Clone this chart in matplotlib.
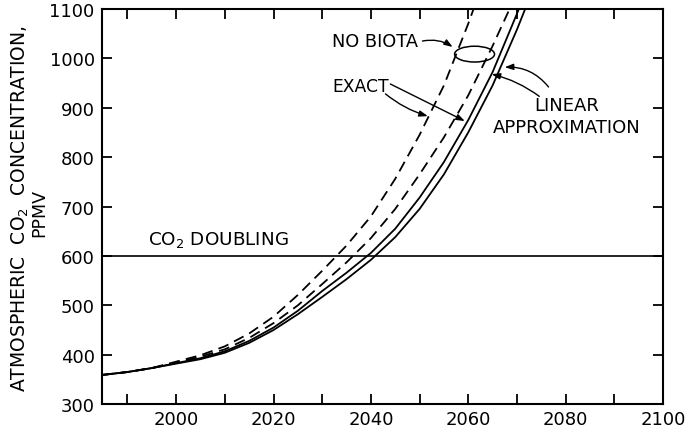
import matplotlib.pyplot as plt
from matplotlib.patches import Ellipse
from matplotlib.ticker import MultipleLocator

plt.rcParams['font.family'] = ['DejaVu Sans']
plt.rcParams['mathtext.default'] = 'regular'

# curves: year / ppmv
# no biota, exact (outer dashed)
nb_exact_yr = [1984.7, 1990, 1995, 2000, 2005, 2010, 2015, 2020, 2025, 2030,
               2035, 2040, 2045, 2050, 2055, 2060, 2061.1]
nb_exact_ppm = [359, 365, 373, 386, 399, 417, 443, 477, 521, 570,
                621, 680, 756, 845, 945, 1070, 1100]

# no biota, linear approximation (inner dashed)
nb_lin_yr = [1984.7, 1990, 1995, 2000, 2005, 2010, 2015, 2020, 2025, 2030,
             2035, 2040, 2045, 2050, 2055, 2060, 2065, 2068.5]
nb_lin_ppm = [359, 365, 373, 384, 396, 411, 434, 464, 500, 543,
              587, 636, 695, 765, 840, 925, 1025, 1100]

# with biota, exact (inner solid)
b_exact_yr = [1984.7, 1990, 1995, 2000, 2005, 2010, 2015, 2020, 2025, 2030,
              2035, 2040, 2045, 2050, 2055, 2060, 2065, 2070, 2070.4]
b_exact_ppm = [359, 365, 373, 383, 393, 407, 428, 455, 489, 529,
               566, 606, 655, 718, 790, 875, 972, 1090, 1100]

# with biota, linear approximation (outer solid)
b_lin_yr = [1984.7, 1990, 1995, 2000, 2005, 2010, 2015, 2020, 2025, 2030,
            2035, 2040, 2045, 2050, 2055, 2060, 2065, 2070, 2071.7]
b_lin_ppm = [359, 365, 373, 382, 391, 404, 424, 450, 482, 517,
             553, 592, 638, 695, 765, 850, 945, 1058, 1100]

doubling = 600

fig = plt.figure(figsize=(6.87, 4.31), dpi=100)
ax = fig.add_axes([0.148, 0.060, 0.817, 0.917])

dash = (0, (6, 3.5))
ax.plot(nb_exact_yr, nb_exact_ppm, color='black', lw=1.3, linestyle=dash)
ax.plot(nb_lin_yr, nb_lin_ppm, color='black', lw=1.3, linestyle=dash)
ax.plot(b_exact_yr, b_exact_ppm, color='black', lw=1.3)
ax.plot(b_lin_yr, b_lin_ppm, color='black', lw=1.3)
ax.axhline(doubling, color='black', lw=1.2)

ax.set_xlim(1984.7, 2100)
ax.set_ylim(300, 1100)
ax.xaxis.set_major_locator(MultipleLocator(20))
ax.xaxis.set_minor_locator(MultipleLocator(10))
ax.yaxis.set_major_locator(MultipleLocator(100))
ax.tick_params(which='both', direction='in', top=True, right=True,
               length=7, width=1.3, labelsize=13)
ax.tick_params(axis='x', pad=4)
ax.tick_params(axis='y', pad=5)
for s in ax.spines.values():
    s.set_linewidth(1.5)

# labels
ax.text(1994.2, 634, r'CO$_2$ DOUBLING', fontsize=13.2, va='center', ha='left')
ax.text(2032, 1035, 'NO BIOTA', fontsize=12.8, va='center', ha='left')
ax.text(2032, 944, 'EXACT', fontsize=12.3, va='center', ha='left')
ax.text(2080.2, 905, 'LINEAR', fontsize=13, va='center', ha='center')
ax.text(2080.2, 861, 'APPROXIMATION', fontsize=13, va='center', ha='center')

ax.add_patch(Ellipse((2061.3, 1008.5), 8.2, 32, fill=False, lw=1.1, color='black'))

arrow = dict(arrowstyle='-|>,head_length=0.5,head_width=0.18', color='black', lw=1.0,
             shrinkA=0, shrinkB=0)
ax.annotate('', xy=(2056.8, 1023), xytext=(2050.6, 1035),
            arrowprops=dict(arrow, connectionstyle='arc3,rad=-0.2'))
ax.annotate('', xy=(2059.3, 873), xytext=(2044.0, 948),
            arrowprops=dict(arrow, connectionstyle='arc3,rad=0.0'))
ax.annotate('', xy=(2051.7, 883), xytext=(2043.0, 928),
            arrowprops=dict(arrow, connectionstyle='arc3,rad=0.1'))
ax.annotate('', xy=(2067.5, 982), xytext=(2076.5, 942),
            arrowprops=dict(arrow, connectionstyle='arc3,rad=0.25'))
ax.annotate('', xy=(2064.8, 968), xytext=(2074.6, 923),
            arrowprops=dict(arrow, connectionstyle='arc3,rad=0.1'))

fig.text(0.030, 0.515, r'ATMOSPHERIC  CO$_2$  CONCENTRATION,', rotation=90,
         fontsize=13.5, ha='center', va='center')
fig.text(0.057, 0.505, 'PPMV', rotation=90, fontsize=12.5, ha='center', va='center')

fig.savefig('out.png', dpi=100)
